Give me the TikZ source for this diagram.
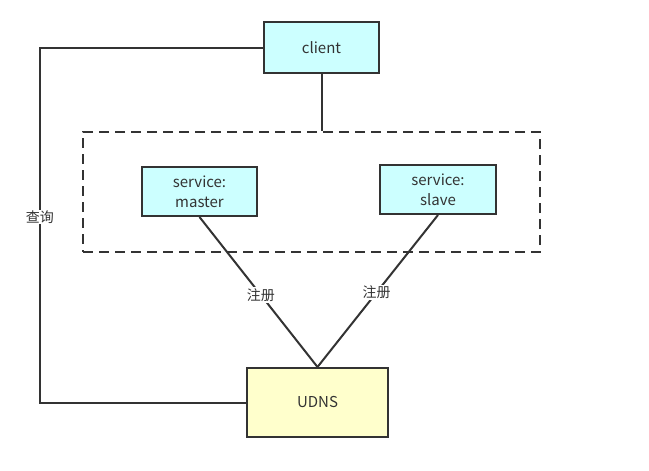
\documentclass[tikz,border=0pt]{standalone}
\usepackage{fontspec}
\setmainfont{Noto Sans CJK SC}
\usepackage{tikz}
\usetikzlibrary{positioning,calc}
\definecolor{boxcyan}{HTML}{CCFFFF}
\definecolor{boxyellow}{HTML}{FFFFCC}
\definecolor{edgegray}{HTML}{333333}
\tikzset{
  box/.style={draw=edgegray, line width=2pt, fill=boxcyan, align=center,
    text=edgegray, font=\fontsize{15}{20}\selectfont, inner sep=0pt},
  lbl/.style={fill=white, text=edgegray, font=\fontsize{14}{16}\selectfont, inner sep=1pt},
  wire/.style={draw=edgegray, line width=2pt}
}

\begin{document}
\begin{tikzpicture}[x=1pt,y=-1pt]
    \useasboundingbox (0,0) rectangle (649,471);
    % Nodes
    \node[draw=edgegray, line width=2pt, dash pattern=on 10pt off 6pt,
      minimum width=457pt, minimum height=120pt] (group) at (311.5,192) {};
    \node[box, minimum width=115pt, minimum height=51pt] (client) at (321.5,47.5) {client};
    \node[box, minimum width=115pt, minimum height=49pt] (master) at (199.5,191.5) {service:\\master};
    \node[box, minimum width=116pt, minimum height=49pt] (slave) at (438,189.5) {service:\\slave};
    \node[box, fill=boxyellow, minimum width=141pt, minimum height=69pt] (udns) at (317.5,402.5) {UDNS};
    \coordinate (corner) at (40,47.5);
    % Arrows
    \draw[wire] (client.south) -- (client.south |- group.north);
    \draw[wire] (client.west) -- (corner) |- (udns.west);
    \node[lbl] (query) at (40,217) {查询};
    \draw[wire] (master.south) -- node[lbl, pos=0.52]{注册} (udns.north);
    \draw[wire] (slave.south) -- node[lbl, pos=0.51]{注册} (udns.north);
\end{tikzpicture}
\end{document}
